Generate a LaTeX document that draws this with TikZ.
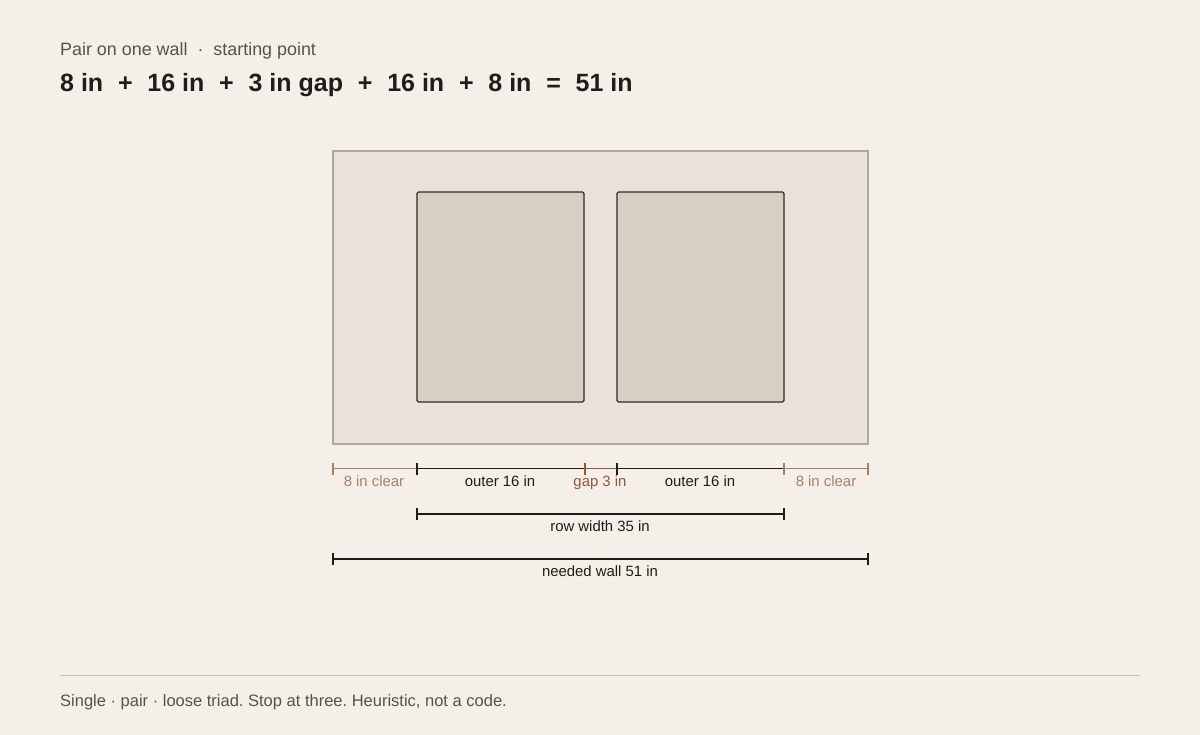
\documentclass[tikz,border=0pt]{standalone}
\usepackage{fontspec}
\setmainfont{Liberation Sans}
\frenchspacing
\definecolor{bg}{HTML}{F4F0E9}
\definecolor{wallfill}{HTML}{E9E2D8}
\definecolor{wallline}{HTML}{AEA898}
\definecolor{framefill}{HTML}{D7CFC4}
\definecolor{frameline}{HTML}{2E2B28}
\definecolor{ink}{HTML}{1F1D1B}
\definecolor{muted}{HTML}{57524C}
\definecolor{clearc}{HTML}{A8806A}
\definecolor{gapc}{HTML}{9A5538}
\definecolor{rule}{HTML}{C9C1B6}
\tikzset{
  lbl/.style={anchor=base, inner sep=0pt, font=\fontsize{14.9}{16}\selectfont},
  dimdark/.style={draw=ink, line width=1.1pt},
  dimclear/.style={draw=clearc, line width=1.1pt},
  dimgap/.style={draw=gapc, line width=1.1pt},
  framebox/.style={draw=frameline, fill=framefill, line width=1.1pt, rounded corners=1.5pt},
}
\newcommand{\opsp}{\hspace{14.8pt}}
\begin{document}
\begin{tikzpicture}[x=1pt,y=-1pt]
\fill[bg] (0,0) rectangle (1200,735);
\useasboundingbox (0,0) rectangle (1200,735);

% header
\node[anchor=base west, inner sep=0pt, text=muted, font=\fontsize{17.9}{20}\selectfont] (sub) at (60,56)
  {Pair on one wall\hspace{10pt}·\hspace{10pt}starting point};
\node[anchor=base west, inner sep=0pt, text=ink, font=\fontsize{25}{28}\selectfont\bfseries] (eq) at (60,92)
  {8 in\opsp+\opsp16 in\opsp+\opsp3 in gap\opsp+\opsp16 in\opsp+\opsp8 in\opsp=\opsp51 in};

% wall and frames
\draw[draw=wallline, fill=wallfill, line width=1.5pt] (333,151) rectangle (868,444);
\draw[framebox] (417,192) rectangle (584,402);
\draw[framebox] (617,192) rectangle (784,402);

% row 1 dimensions
\coordinate (a0) at (333,468.5);
\coordinate (a1) at (417,468.5);
\coordinate (a2) at (585,468.5);
\coordinate (a3) at (617,468.5);
\coordinate (a4) at (784,468.5);
\coordinate (a5) at (868,468.5);
\draw[dimclear] (a0) -- (a1);
\draw[dimdark] (a1) -- (a2);
\draw[dimgap] (a2) -- (a3);
\draw[dimdark] (a3) -- (a4);
\draw[dimclear] (a4) -- (a5);
\draw[dimclear] ([yshift=-6pt]a0) -- ([yshift=5.5pt]a0);
\draw[dimclear] ([yshift=-6pt]a5) -- ([yshift=5.5pt]a5);
\draw[dimdark] ([yshift=-6pt]a1) -- ([yshift=5.5pt]a1);
\draw[dimdark] ([yshift=-6pt]a3) -- ([yshift=5.5pt]a3);
\draw[dimgap] ([yshift=-6pt]a2) -- ([yshift=5.5pt]a2);
\draw[dimclear] ([yshift=-6pt]a4) -- ([yshift=5.5pt]a4);

\node[lbl, text=clearc] (l1) at (374,486.5) {8 in clear};
\node[lbl, text=ink] (l2) at (500,486.5) {outer 16 in};
\node[lbl, text=gapc] (l3) at (600,486.5) {gap 3 in};
\node[lbl, text=ink] (l4) at (700,486.5) {outer 16 in};
\node[lbl, text=clearc] (l5) at (826,486.5) {8 in clear};

% row 2
\coordinate (b0) at (417,514);
\coordinate (b1) at (784,514);
\draw[dimdark] (b0) -- (b1);
\draw[dimdark] ([yshift=-6pt]b0) -- ([yshift=6pt]b0);
\draw[dimdark] ([yshift=-6pt]b1) -- ([yshift=6pt]b1);
\node[lbl, text=ink] (rw) at (600,531.5) {row width 35 in};

% row 3
\coordinate (c0) at (333,559);
\coordinate (c1) at (868,559);
\draw[dimdark] (c0) -- (c1);
\draw[dimdark] ([yshift=-6pt]c0) -- ([yshift=6pt]c0);
\draw[dimdark] ([yshift=-6pt]c1) -- ([yshift=6pt]c1);
\node[lbl, text=ink] (nw) at (600,576.5) {needed wall 51 in};

% footer
\draw[draw=rule, line width=1pt] (60,675.5) -- (1140,675.5);
\node[anchor=base west, inner sep=0pt, text=muted, font=\fontsize{16.5}{18}\selectfont] (foot) at (60,706.5)
  {Single · pair · loose triad. Stop at three. Heuristic, not a code.};
\end{tikzpicture}
\end{document}
